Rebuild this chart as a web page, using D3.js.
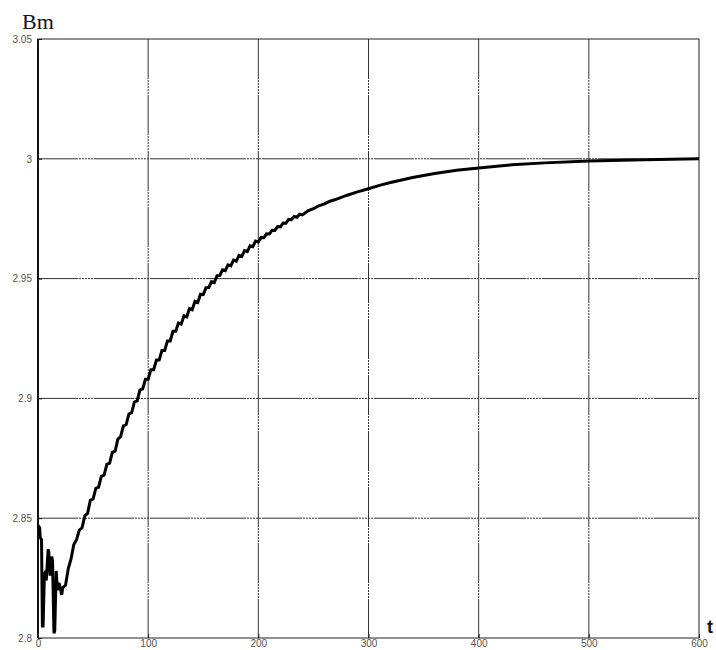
<!DOCTYPE html>
<html><head><meta charset="utf-8">
<script src="https://cdn.jsdelivr.net/npm/d3@7"></script>
<style>body{margin:0;background:#fff}svg{display:block}</style>
</head><body>
<script>
const xTicks = [0, 100, 200, 300, 400, 500, 600];
const yTicks = [2.8, 2.85, 2.9, 2.95, 3, 3.05];
const yTickLabels = ["2.8", "2.85", "2.9", "2.95", "3", "3.05"];
const yLabel = "Bm";
const xLabel = "t";

const tValues = [
 0,1.5,2,3.2,4.0,4.6,5.8,6.8,7.5,9.2,9.8,11,12.5,13.2,14.5,15.2,16.5,17.6,19,20.2,21.5,
 22.5,25,27.5,30,32.5,35,37.5,40,42.5,45,47.5,50,52.5,55,57.5,60,62.5,65,67.5,70,72.5,75,77.5,80,82.5,85,87.5,90,92.5,95,97.5,
 100,102.5,105,107.5,110,112.5,115,117.5,120,122.5,125,127.5,130,132.5,135,137.5,140,142.5,145,147.5,
 150,152.5,155,157.5,160,162.5,165,167.5,170,172.5,175,177.5,180,182.5,185,187.5,190,192.5,195,197.5,
 200,202.5,205,207.5,210,212.5,215,217.5,220,222.5,225,227.5,230,232.5,235,237.5,240,
 245,250,255,260,265,270,280,290,300,310,320,340,360,380,400,430,460,500,550,600
];
const bmValues = [
 2.847,2.846,2.842,2.841,2.805,2.805,2.826,2.828,2.824,2.837,2.836,2.826,2.834,2.832,2.802,2.803,2.828,2.820,2.823,2.821,2.818,
 2.821,2.822,2.829,2.833,2.839,2.841,2.845,2.846,2.851,2.852,2.8575,2.858,2.8625,2.863,2.8675,2.868,2.8725,2.873,2.8775,2.878,2.883,2.884,2.8885,2.889,2.8935,2.894,2.8985,2.899,2.9035,2.904,2.908,
 2.908,2.912,2.912,2.916,2.916,2.920,2.920,2.924,2.924,2.928,2.928,2.9315,2.931,2.9345,2.934,2.9375,2.937,2.9405,2.940,2.9435,
 2.9433,2.9462,2.9463,2.9487,2.9483,2.9512,2.9513,2.9537,2.9533,2.9557,2.9553,2.9577,2.9573,2.9597,2.9593,2.9617,2.9613,2.9637,2.9633,2.9657,
 2.9653,2.9672,2.9671,2.9687,2.9686,2.9702,2.9701,2.9717,2.9716,2.9732,2.9731,2.9747,2.9746,2.9759,2.9756,2.9769,2.9766,
 2.9783,2.9792,2.9804,2.9812,2.9823,2.9830,2.9847,2.9862,2.9875,2.9889,2.9901,2.9922,2.9939,2.9952,2.9962,2.9975,2.9983,2.9991,2.99965,3.0
];

const W = 716, H = 650;
const m = {left: 38, top: 39, right: 699, bottom: 638};
const svg = d3.select("body").append("svg").attr("width", W).attr("height", H);

const x = d3.scaleLinear().domain([0, 600]).range([m.left, m.right]);
const y = d3.scaleLinear().domain([2.8, 3.05]).range([m.bottom, m.top]);

// grid
const grid = svg.append("g");
grid.selectAll(".vx").data(xTicks.slice(1, -1)).join("line")
  .attr("x1", d => x(d)).attr("x2", d => x(d)).attr("y1", m.top).attr("y2", m.bottom)
  .attr("stroke", "#333").attr("stroke-width", 1)
  .attr("stroke-dasharray", "40,1,2,1,2,1,2,1,2,1,2,1");
grid.selectAll(".hy").data(yTicks.slice(1, -1)).join("line")
  .attr("y1", d => y(d)).attr("y2", d => y(d)).attr("x1", m.left).attr("x2", m.right)
  .attr("stroke", "#333").attr("stroke-width", 1)
  .attr("stroke-dasharray", "40,1,2,1,2,1,2,1,2,1,2,1");

// frame
svg.append("rect").attr("x", m.left).attr("y", m.top)
  .attr("width", m.right - m.left).attr("height", m.bottom - m.top)
  .attr("fill", "none").attr("stroke", "#222").attr("stroke-width", 1);
svg.append("line").attr("x1", m.left).attr("x2", m.left).attr("y1", m.top).attr("y2", m.bottom)
  .attr("stroke", "#111").attr("stroke-width", 2);

// axes labels via d3 axes
const yAxis = d3.axisLeft(y).tickValues(yTicks).tickFormat((d, i) => yTickLabels[i]).tickSize(-4).tickPadding(6);
const gy = svg.append("g").attr("transform", `translate(${m.left},0)`).call(yAxis);
gy.select(".domain").remove();
gy.selectAll("line").attr("stroke", "#222");
gy.selectAll("text").attr("font-family", "Liberation Sans, Arial, sans-serif").attr("font-size", 10).attr("fill", "#555");

const xAxis = d3.axisBottom(x).tickValues(xTicks).tickFormat(d3.format("d")).tickSize(-4).tickPadding(2);
const gx = svg.append("g").attr("transform", `translate(0,${m.bottom})`).call(xAxis);
gx.select(".domain").remove();
gx.selectAll("line").attr("stroke", "#222");
gx.selectAll("text").attr("font-family", "Liberation Sans, Arial, sans-serif").attr("font-size", 10).attr("fill", "#555");

// curve
const pts = tValues.map((t, i) => [t, bmValues[i]]);
svg.append("path").datum(pts)
  .attr("d", d3.line().x(d => x(d[0])).y(d => y(d[1])))
  .attr("fill", "none").attr("stroke", "#000").attr("stroke-width", 3)
  .attr("stroke-linejoin", "miter").attr("stroke-miterlimit", 2);

// titles
svg.append("text").attr("x", 22).attr("y", 29).text(yLabel)
  .attr("font-family", "Liberation Serif, Times New Roman, serif").attr("font-size", 22).attr("fill", "#111");
svg.append("text").attr("x", 707).attr("y", 633).text(xLabel)
  .attr("font-family", "Liberation Sans, Arial, sans-serif").attr("font-size", 18).attr("font-weight", "bold").attr("fill", "#111");
</script>
</body></html>
